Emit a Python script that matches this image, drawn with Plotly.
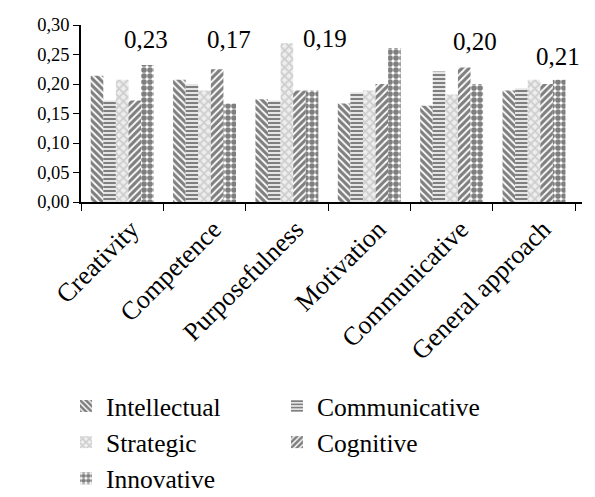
import plotly.graph_objects as go

categories = ["Creativity", "Competence", "Purposefulness", "Motivation",
              "Communicative", "General approach"]
intellectual = [0.214, 0.207, 0.174, 0.167, 0.163, 0.189]
communicative = [0.172, 0.200, 0.172, 0.186, 0.221, 0.193]
strategic = [0.207, 0.189, 0.269, 0.189, 0.182, 0.207]
cognitive = [0.172, 0.225, 0.189, 0.200, 0.228, 0.200]
innovative = [0.232, 0.167, 0.189, 0.261, 0.200, 0.207]
label_texts = ["0,23", "0,17", "0,19", "0,23", "0,20", "0,21"]
y_ticks = [0.00, 0.05, 0.10, 0.15, 0.20, 0.25, 0.30]

FONT = "Liberation Serif"

series = [
    ("Intellectual", intellectual, dict(shape="\\", fgcolor="black", bgcolor="white", size=5, solidity=0.65)),
    ("Communicative", communicative, dict(shape="-", fgcolor="black", bgcolor="white", size=4, solidity=0.6)),
    ("Strategic", strategic, dict(shape="x", fgcolor="#aaaaaa", bgcolor="#eeeeee", size=6, solidity=0.5)),
    ("Cognitive", cognitive, dict(shape="/", fgcolor="black", bgcolor="white", size=5, solidity=0.65)),
    ("Innovative", innovative, dict(shape=".", fgcolor="black", bgcolor="white", size=6, solidity=0.7)),
]

fig = go.Figure()
for name, vals, pat in series:
    fig.add_trace(go.Bar(
        x=categories, y=vals, name=name,
        marker=dict(color="white", pattern=pat, line=dict(width=0)),
    ))

# data labels (placement offsets are layout, not data)
label_y = [0.2755, 0.2755, 0.2775, 0.3056, 0.2724, 0.247]
label_dx = [24, 24, 38, 22, 23, 24]
for cat, txt, ly, dx in zip(categories, label_texts, label_y, label_dx):
    fig.add_annotation(x=cat, y=ly, text=txt, showarrow=False, xshift=dx,
                       yanchor="middle", font=dict(family=FONT, size=25, color="black"))

# page body has an 8px margin, so the figure is sized 8px smaller
fig.update_layout(
    width=587, height=489,
    margin=dict(l=73, r=13, t=17, b=295, autoexpand=False),
    paper_bgcolor="white", plot_bgcolor="white",
    barmode="group", bargap=0.236, bargroupgap=0,
    separators=", ",
    font=dict(family=FONT, color="black"),
    legend=dict(orientation="h", x=-0.03, xanchor="left", y=-1.022, yanchor="top",
                entrywidth=166, entrywidthmode="pixels",
                font=dict(family=FONT, size=25.5, color="black"),
                traceorder="normal"),
    showlegend=True,
)
fig.update_xaxes(showline=True, linecolor="black", linewidth=1.5,
                 ticks="outside", tickson="boundaries", ticklen=7, tickcolor="black",
                 tickangle=-45, tickfont=dict(family=FONT, size=26, color="black"),
                 ticklabelshift=9,
                 showgrid=False, automargin=False)
fig.update_yaxes(range=[0, 0.30], tickvals=y_ticks, tickformat=".2f",
                 showline=True, linecolor="black", linewidth=1.5,
                 ticks="outside", ticklen=6, tickcolor="black",
                 tickfont=dict(family=FONT, size=18.5, color="black"),
                 showgrid=False, zeroline=False, automargin=False)

fig.write_html("out.html")
